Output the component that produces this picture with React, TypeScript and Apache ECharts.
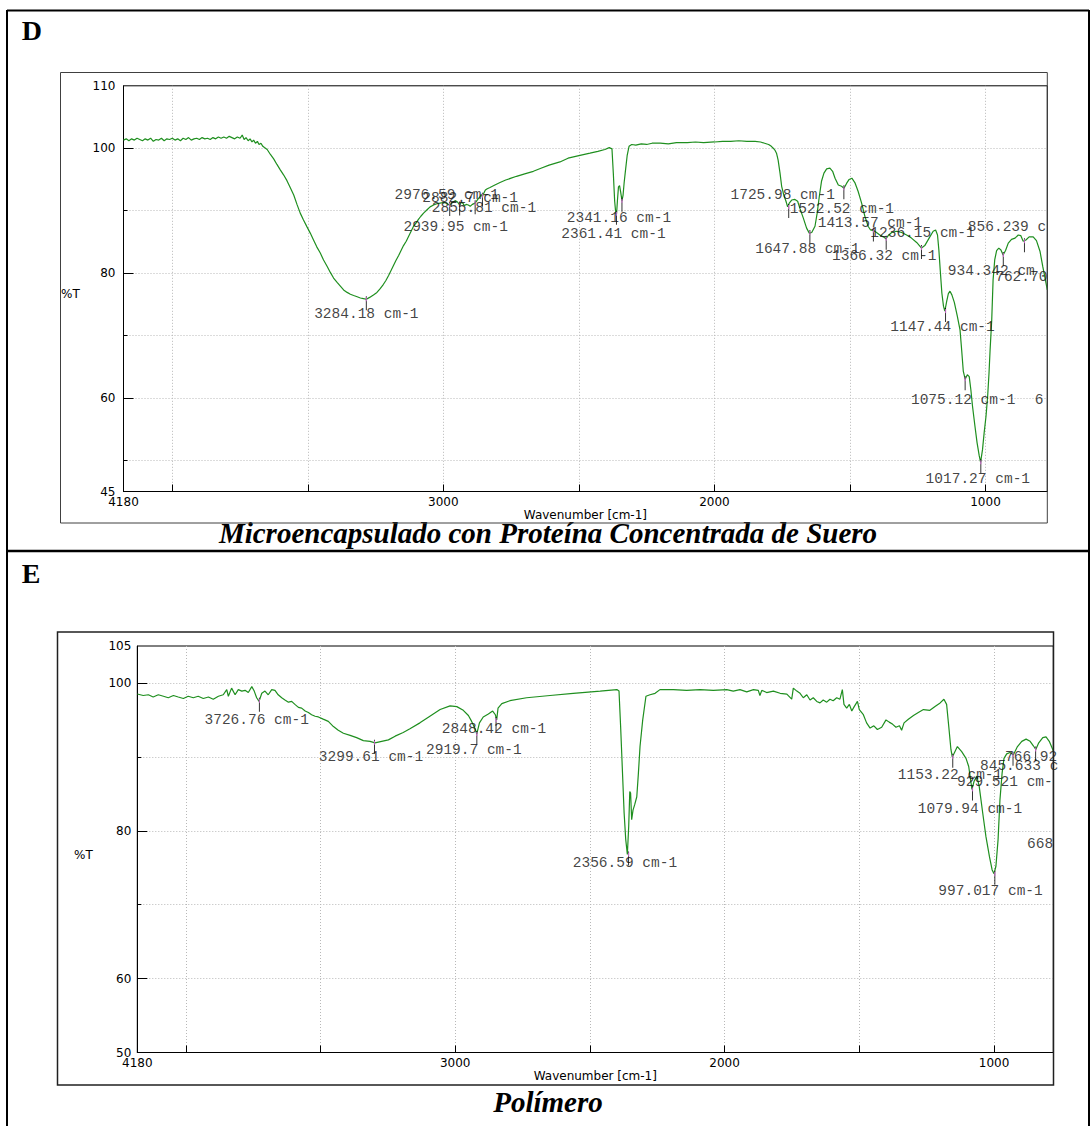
import React, { useEffect, useRef } from "react";
import * as echarts from "echarts";

// ---------- DATA ----------
const D_X_RANGE = [772, 4180];
const D_Y_RANGE = [45, 110];
const E_X_RANGE = [780, 4180];
const E_Y_RANGE = [50, 105];

const X_TICKS = [4000, 3500, 3000, 2500, 2000, 1500, 1000];
const X_LABELS = [4180, 3000, 2000, 1000];
const D_Y_LABELS = [45, 60, 80, 100, 110];
const E_Y_LABELS = [50, 60, 80, 100, 105];
const D_Y_GRID = [50, 60, 70, 80, 90, 100];
const E_Y_GRID = [60, 70, 80, 90, 100];
const Y_MAJOR = [60, 80, 100];

// [wavenumber cm-1, %T]
const D_SPECTRUM: [number, number][] = [
  [4180, 101.3], [4170, 101.5], [4160, 101.2], [4150, 101.5], [4140, 101.3], [4130, 101.6], [4120, 101.4],
  [4110, 101.2], [4100, 101.5], [4090, 101.3], [4080, 101.6], [4070, 101.1], [4060, 101.4], [4050, 101.3],
  [4040, 101.6], [4030, 101.2], [4020, 101.5], [4010, 101.4], [4000, 101.6], [3990, 101.3], [3980, 101.5],
  [3970, 101.2], [3960, 101.6], [3950, 101.4], [3940, 101.7], [3930, 101.3], [3920, 101.5], [3910, 101.6],
  [3900, 101.4], [3890, 101.7], [3880, 101.5], [3870, 101.6], [3860, 101.4], [3850, 101.7], [3840, 101.5],
  [3830, 101.8], [3820, 101.6], [3810, 101.8], [3800, 101.6], [3790, 101.9], [3780, 101.7], [3770, 101.5],
  [3760, 101.8], [3750, 101.6], [3742, 102.1], [3735, 101.4], [3728, 101.7], [3720, 101.2], [3713, 101.5],
  [3706, 101.0], [3700, 101.3], [3693, 100.8], [3686, 101.1], [3680, 100.6], [3673, 100.8], [3666, 100.3],
  [3660, 100.1], [3650, 99.8], [3638, 99.0], [3626, 98.3], [3614, 97.4], [3601, 96.5], [3589, 95.7],
  [3577, 94.8], [3565, 93.7], [3552, 92.5], [3540, 91.0], [3528, 89.6], [3516, 88.5], [3503, 87.4],
  [3491, 86.4], [3479, 85.3], [3467, 84.2], [3454, 83.2], [3442, 82.1], [3429, 81.1], [3417, 80.1],
  [3405, 79.2], [3392, 78.5], [3380, 77.9], [3368, 77.3], [3355, 76.9], [3343, 76.6], [3331, 76.4],
  [3318, 76.2], [3306, 76.0], [3295, 75.9], [3284, 75.8], [3272, 76.1], [3258, 76.5], [3245, 76.9],
  [3233, 77.5], [3221, 78.2], [3212, 78.8], [3202, 79.6], [3193, 80.4], [3184, 81.2], [3175, 82.0],
  [3165, 82.8], [3156, 83.6], [3147, 84.4], [3137, 85.1], [3128, 85.9], [3119, 86.7], [3110, 87.5],
  [3101, 88.0], [3092, 88.6], [3083, 89.1], [3073, 89.6], [3061, 90.1], [3049, 90.6], [3036, 90.9],
  [3024, 91.1], [3012, 91.2], [3000, 91.3], [2988, 91.2], [2981, 91.0], [2977, 90.8], [2970, 91.2],
  [2963, 91.4], [2955, 91.6], [2948, 91.4], [2940, 90.9], [2934, 91.3], [2928, 91.2], [2923, 90.8],
  [2916, 91.0], [2908, 90.9], [2901, 90.7], [2893, 91.0], [2883, 91.2], [2873, 91.8], [2864, 92.3],
  [2860, 92.6], [2856, 92.2], [2851, 92.8], [2845, 93.3], [2838, 93.5], [2828, 93.7], [2810, 94.1],
  [2791, 94.5], [2770, 94.9], [2750, 95.2], [2730, 95.5], [2700, 95.9], [2668, 96.3], [2640, 96.8],
  [2610, 97.3], [2570, 97.8], [2540, 98.4], [2500, 98.8], [2459, 99.2], [2430, 99.5], [2404, 99.8],
  [2388, 100.1], [2378, 99.9], [2373, 96.0], [2368, 91.5], [2364, 89.6], [2361, 89.5], [2358, 91.5],
  [2354, 93.8], [2350, 94.0], [2346, 93.0], [2341, 91.6], [2337, 92.5], [2333, 94.5], [2328, 96.5],
  [2322, 98.8], [2315, 100.3], [2305, 100.6], [2290, 100.5], [2270, 100.7], [2250, 100.6], [2230, 100.8],
  [2200, 100.8], [2170, 100.7], [2140, 100.9], [2100, 100.9], [2070, 101.0], [2040, 100.9], [2000, 101.0],
  [1970, 101.1], [1940, 101.1], [1910, 101.2], [1880, 101.1], [1850, 101.1], [1830, 101.0], [1815, 100.8],
  [1800, 100.6], [1790, 100.3], [1783, 100.0], [1777, 99.7], [1771, 99.2], [1765, 98.1], [1758, 96.0],
  [1752, 93.9], [1744, 92.5], [1736, 91.5], [1730, 90.6], [1724, 91.2], [1715, 91.7], [1703, 91.8],
  [1693, 91.5], [1685, 90.4], [1672, 88.8], [1660, 87.2], [1650, 86.4], [1641, 86.5], [1629, 87.5],
  [1621, 89.6], [1613, 92.3], [1605, 94.7], [1596, 96.0], [1586, 96.7], [1574, 96.8], [1564, 96.3],
  [1555, 95.2], [1543, 94.1], [1531, 93.9], [1522, 93.6], [1512, 94.4], [1503, 95.0], [1493, 95.2],
  [1482, 94.5], [1470, 93.1], [1457, 91.2], [1445, 89.1], [1433, 87.5], [1424, 86.9], [1413, 86.8],
  [1402, 86.5], [1390, 86.1], [1377, 85.8], [1367, 85.5], [1357, 86.1], [1346, 86.5], [1328, 86.7],
  [1309, 86.5], [1291, 86.1], [1273, 85.6], [1254, 84.9], [1236, 84.0], [1224, 84.4], [1208, 85.6],
  [1193, 86.7], [1184, 86.9], [1177, 86.1], [1172, 83.7], [1167, 80.5], [1161, 76.8], [1155, 74.7],
  [1150, 73.9], [1143, 75.5], [1137, 76.7], [1131, 77.1], [1124, 76.5], [1115, 75.3], [1104, 73.1],
  [1094, 70.9], [1088, 67.7], [1082, 64.3], [1075, 63.0], [1067, 63.7], [1060, 63.4], [1054, 61.3],
  [1048, 58.7], [1039, 55.5], [1031, 52.8], [1023, 50.7], [1018, 49.7], [1011, 51.7], [1005, 54.4],
  [998, 57.1], [992, 60.3], [987, 64.0], [983, 67.7], [977, 72.5], [972, 78.9], [966, 82.1],
  [959, 83.6], [951, 84.0], [943, 83.7], [935, 82.9], [926, 83.6], [916, 84.8], [904, 85.4],
  [891, 85.6], [879, 86.1], [870, 86.0], [861, 85.1], [851, 85.3], [839, 85.8], [824, 85.8],
  [812, 85.2], [799, 83.5], [789, 81.1], [779, 78.9], [772, 77.3],
];

const E_SPECTRUM: [number, number][] = [
  [4180, 98.5], [4158, 98.3], [4139, 98.4], [4121, 98.1], [4102, 98.4], [4083, 98.2], [4065, 98.0],
  [4046, 98.3], [4028, 98.1], [4009, 97.9], [3991, 98.2], [3972, 98.0], [3954, 98.2], [3935, 97.9],
  [3916, 98.1], [3898, 97.8], [3879, 98.2], [3861, 98.4], [3848, 99.1], [3842, 98.2], [3830, 99.3],
  [3817, 98.4], [3805, 99.1], [3792, 98.9], [3780, 99.0], [3768, 98.7], [3755, 99.5], [3746, 98.9],
  [3737, 98.0], [3728, 97.5], [3718, 98.6], [3706, 98.9], [3694, 98.4], [3681, 99.1], [3669, 99.0],
  [3657, 98.4], [3644, 98.0], [3632, 97.7], [3619, 97.4], [3607, 97.5], [3595, 97.1], [3582, 96.7],
  [3570, 96.6], [3557, 96.2], [3545, 96.0], [3533, 95.7], [3520, 95.5], [3508, 95.4], [3490, 95.1],
  [3471, 94.8], [3452, 94.1], [3434, 93.6], [3415, 93.2], [3390, 92.9], [3366, 92.6], [3341, 92.2],
  [3316, 92.1], [3298, 91.9], [3273, 92.1], [3248, 92.3], [3223, 92.8], [3193, 93.3], [3168, 93.8],
  [3131, 94.6], [3094, 95.5], [3056, 96.4], [3019, 96.9], [2994, 96.8], [2970, 96.3], [2951, 95.6],
  [2939, 94.8], [2926, 93.8], [2920, 93.1], [2910, 94.6], [2896, 95.4], [2877, 95.8], [2861, 96.2],
  [2851, 95.7], [2846, 95.0], [2841, 96.6], [2827, 97.2], [2797, 97.6], [2735, 98.0], [2648, 98.3],
  [2562, 98.6], [2462, 98.9], [2400, 99.1], [2392, 98.9], [2386, 94.1], [2380, 88.7], [2373, 82.4],
  [2367, 78.8], [2361, 76.8], [2356, 80.6], [2352, 85.3], [2349, 85.1], [2345, 81.5], [2340, 82.8],
  [2334, 83.5], [2326, 84.6], [2320, 87.8], [2314, 91.4], [2304, 95.0], [2292, 98.2], [2277, 98.4],
  [2258, 98.6], [2240, 99.1], [2190, 99.1], [2141, 99.0], [2091, 99.1], [2042, 99.0], [1992, 99.1],
  [1968, 98.9], [1943, 99.1], [1918, 98.8], [1893, 99.1], [1875, 99.0], [1869, 98.3], [1862, 99.0],
  [1844, 98.7], [1819, 98.9], [1794, 98.6], [1769, 98.5], [1751, 97.8], [1745, 99.3], [1732, 98.9],
  [1720, 98.6], [1708, 98.0], [1695, 98.4], [1683, 97.7], [1671, 98.0], [1658, 97.5], [1646, 97.3],
  [1634, 97.7], [1621, 97.4], [1609, 97.8], [1597, 97.6], [1584, 98.0], [1572, 97.8], [1563, 99.1],
  [1557, 97.1], [1547, 96.6], [1537, 97.1], [1528, 96.2], [1519, 96.8], [1507, 97.5], [1500, 96.4],
  [1485, 95.7], [1473, 94.6], [1460, 93.9], [1446, 94.2], [1433, 93.7], [1417, 94.0], [1401, 95.0],
  [1389, 94.7], [1376, 94.4], [1364, 94.0], [1351, 94.2], [1343, 93.6], [1334, 94.6], [1318, 95.1],
  [1299, 95.6], [1281, 96.0], [1262, 96.4], [1238, 96.3], [1219, 96.8], [1200, 97.3], [1186, 97.8],
  [1176, 97.1], [1168, 94.1], [1160, 91.0], [1155, 90.0], [1148, 90.5], [1136, 91.4], [1120, 90.7],
  [1104, 89.8], [1094, 88.7], [1087, 86.9], [1082, 85.6], [1074, 86.7], [1064, 87.4], [1055, 86.0],
  [1042, 82.4], [1030, 79.2], [1017, 76.5], [1007, 74.7], [1000, 74.2], [993, 75.2], [985, 78.8],
  [978, 84.2], [970, 87.8], [963, 89.8], [953, 90.4], [941, 90.6], [928, 90.3], [913, 91.4],
  [897, 92.1], [881, 92.4], [866, 92.1], [854, 91.5], [845, 91.0], [834, 91.9], [819, 92.6],
  [807, 92.7], [795, 92.1], [782, 91.0], [780, 90.8],
];

// Peak picks (the visible part of each label text)
const D_PEAK_WN = [3284.18, 2976.59, 2939.95, 2882.7, 2855.81, 2361.41, 2341.16, 1725.98, 1647.88, 1522.52,
  1413.57, 1366.32, 1236.15, 1147.44, 1075.12, 1017.27, 934.342, 856.239, 762.7, 617];
const D_PEAK_T = [75.8, 90.9, 91.0, 91.2, 92.4, 89.5, 91.6, 90.6, 86.4, 93.6,
  86.8, 85.5, 84.0, 73.9, 63.0, 49.7, 82.9, 85.1, 76.5, 60];
const D_PEAK_TEXT = ["3284.18 cm-1", "2976.59 cm-1", "2939.95 cm-1", "2882.7 cm-1", "2855.81 cm-1",
  "2361.41 cm-1", "2341.16 cm-1", "1725.98 cm-1", "1647.88 cm-1", "1522.52 cm-1", "1413.57 cm-1",
  "1366.32 cm-1", "1236.15 cm-1", "1147.44 cm-1", "1075.12 cm-1", "1017.27 cm-1", "934.342 cm",
  "856.239 c", "762.70", "6"];

const E_PEAK_WN = [3726.76, 3299.61, 2919.7, 2848.42, 2356.59, 1153.22, 1079.94, 997.017, 929.521, 845.633, 766.92, 668];
const E_PEAK_T = [97.6, 91.9, 93.1, 95.0, 76.8, 90.0, 85.6, 74.2, 90.3, 91.0, 92.0, 82];
const E_PEAK_TEXT = ["3726.76 cm-1", "3299.61 cm-1", "2919.7 cm-1", "2848.42 cm-1", "2356.59 cm-1",
  "1153.22 cm-1", "1079.94 cm-1", "997.017 cm-1", "929.521 cm-", "845.633 c", "766.92", "668"];

// ---------- LAYOUT (label placement in px relative to the peak point) ----------
const D_LABEL_LAYOUT: [number, number, string][] = [
  [0, 14.5, "center"], [-3, -10, "center"], [-4, 22.5, "center"], [-5, -5, "center"], [1.5, 12.7, "center"],
  [-3, 20, "center"], [-3, 17, "center"], [-6, -12, "center"], [-2.5, 16, "center"], [-2, 21, "center"],
  [-3.5, -8, "center"], [-2, 17, "center"], [1, -15, "center"], [-3, 15.5, "center"], [-2, 21, "center"],
  [-3, 17, "center"], [-55.5, 16, "left"], [-56.6, -14, "left"], [-54.6, -18, "left"], [-54.5, 2, "left"],
];
const E_LABEL_LAYOUT: [number, number, string][] = [
  [-2.7, 19.3, "center"], [-3.5, 14, "center"], [-3, 16, "center"], [-2, 9.4, "center"], [-3.6, 8.3, "center"],
  [-2.7, 18, "center"], [-2.5, 20, "center"], [-4.3, 17, "center"], [-56, 27, "left"], [-55.6, 16.5, "left"],
  [-51.8, 15, "left"], [-56.4, 28, "left"],
];

const GREEN = "#1f8f1f";
const GRID_LINE = { color: "#b8b8b8", type: [1, 2] as number[], width: 1 };
const AXIS_FONT = { fontFamily: "DejaVu Sans", fontSize: 12, color: "#000" };
const PEAK_FONT = { fontFamily: "Liberation Mono", fontSize: 14.5, color: "#111", lineHeight: 12 };

function xAxisFor(gridIndex: number, range: number[], nameGap: number) {
  return {
    type: "value", gridIndex, inverse: true, min: range[0], max: range[1],
    axisLine: { show: true, onZero: false, lineStyle: { color: "#000", width: 1 } },
    axisTick: { show: true, inside: true, length: 7, customValues: X_TICKS, lineStyle: { color: "#000" } },
    axisLabel: { show: true, customValues: X_LABELS, margin: 4, ...AXIS_FONT, lineHeight: 12, formatter: (v: number) => String(v) },
    splitLine: { show: true, lineStyle: GRID_LINE },
    name: "Wavenumber [cm-1]", nameLocation: "middle", nameGap,
    nameTextStyle: { ...AXIS_FONT, lineHeight: 11 },
  };
}

function yAxesFor(gridIndex: number, range: number[], labels: number[], grid: number[], margin: number) {
  return [
    {
      type: "value", gridIndex, min: range[0], max: range[1], position: "left",
      axisLine: { show: true, onZero: false, lineStyle: { color: "#000", width: 1 } },
      axisTick: { show: true, inside: true, length: 4, customValues: grid, lineStyle: { color: "#000" } },
      axisLabel: { show: true, customValues: labels, margin, ...AXIS_FONT, lineHeight: 11, formatter: (v: number) => String(v) },
      splitLine: { show: true, lineStyle: GRID_LINE },
    },
    {
      type: "value", gridIndex, min: range[0], max: range[1], position: "left",
      axisLine: { show: false },
      axisTick: { show: true, inside: true, length: 10, customValues: Y_MAJOR, lineStyle: { color: "#000" } },
      axisLabel: { show: false },
      splitLine: { show: false },
    },
  ];
}

function peakSeries(axisIdx: number, yIdx: number, wn: number[], t: number[], text: string[], layout: [number, number, string][]) {
  const pts = wn.map((w, i) => [w, t[i]]);
  return [
    {
      type: "scatter", xAxisIndex: axisIdx, yAxisIndex: yIdx, silent: true, z: 4, clip: true,
      symbol: "rect", symbolSize: [1, 14], symbolOffset: [0, 4],
      itemStyle: { color: "#000" },
      data: pts,
    },
    {
      type: "scatter", xAxisIndex: axisIdx, yAxisIndex: yIdx, silent: true, z: 5, clip: true,
      symbol: "rect", symbolSize: [1.2, 4], symbolOffset: [0, 0],
      itemStyle: { color: "#e070e0" },
      data: pts,
    },
    {
      type: "scatter", xAxisIndex: axisIdx, yAxisIndex: yIdx, silent: true, z: 6, clip: false,
      symbol: "circle", symbolSize: 1, itemStyle: { color: "rgba(0,0,0,0)" },
      data: pts.map((p, i) => ({
        value: p,
        label: {
          show: true, position: "inside", formatter: text[i],
          offset: [layout[i][0], layout[i][1]], align: layout[i][2], verticalAlign: "middle",
          ...PEAK_FONT,
        },
      })),
    },
  ];
}

function buildOption() {
  const serifBold = '"Liberation Serif", "Times New Roman", serif';
  return {
    animation: false,
    backgroundColor: "#fff",
    grid: [
      { left: 123.5, top: 85.8, width: 923.8, height: 405.7, show: true, borderColor: "#000", borderWidth: 1, backgroundColor: "#fff" },
      { left: 137.3, top: 646, width: 916, height: 406.5, show: true, borderColor: "#000", borderWidth: 1, backgroundColor: "#fff" },
    ],
    xAxis: [xAxisFor(0, D_X_RANGE, 18), xAxisFor(1, E_X_RANGE, 18)],
    yAxis: [
      ...yAxesFor(0, D_Y_RANGE, D_Y_LABELS, D_Y_GRID, 8),
      ...yAxesFor(1, E_Y_RANGE, E_Y_LABELS, E_Y_GRID, 6),
    ],
    series: [
      {
        type: "line", xAxisIndex: 0, yAxisIndex: 0, data: D_SPECTRUM, showSymbol: false, clip: true, z: 3,
        lineStyle: { color: GREEN, width: 1.2 }, silent: true,
      },
      {
        type: "line", xAxisIndex: 1, yAxisIndex: 2, data: E_SPECTRUM, showSymbol: false, clip: true, z: 3,
        lineStyle: { color: GREEN, width: 1.2 }, silent: true,
      },
      ...peakSeries(0, 0, D_PEAK_WN, D_PEAK_T, D_PEAK_TEXT, D_LABEL_LAYOUT),
      ...peakSeries(1, 2, E_PEAK_WN, E_PEAK_T, E_PEAK_TEXT, E_LABEL_LAYOUT),
    ],
    graphic: [
      // outer table borders
      { type: "line", silent: true, shape: { x1: 7, y1: 10.5, x2: 1089, y2: 10.5 }, style: { stroke: "#000", lineWidth: 2 } },
      { type: "line", silent: true, shape: { x1: 7, y1: 10, x2: 7, y2: 1126 }, style: { stroke: "#000", lineWidth: 2 } },
      { type: "line", silent: true, shape: { x1: 1089, y1: 10, x2: 1089, y2: 1126 }, style: { stroke: "#000", lineWidth: 2 } },
      { type: "line", silent: true, shape: { x1: 7, y1: 551, x2: 1089, y2: 551 }, style: { stroke: "#000", lineWidth: 2.5 } },
      // chart frames
      { type: "rect", silent: true, z: 10, shape: { x: 60.5, y: 72.5, width: 986.8, height: 450.5 }, style: { fill: "none", stroke: "#404040", lineWidth: 1 } },
      { type: "rect", silent: true, z: 10, shape: { x: 57.5, y: 632, width: 996, height: 453 }, style: { fill: "none", stroke: "#202020", lineWidth: 1.5 } },
      // panel letters
      { type: "text", silent: true, x: 21.7, y: 30, style: { text: "D", font: `bold 28px ${serifBold}`, fill: "#000", align: "left", verticalAlign: "middle" } },
      { type: "text", silent: true, x: 21.7, y: 573, style: { text: "E", font: `bold 28px ${serifBold}`, fill: "#000", align: "left", verticalAlign: "middle" } },
      // %T
      { type: "text", silent: true, x: 61, y: 294, style: { text: "%T", font: '12px "DejaVu Sans"', fill: "#000", align: "left", verticalAlign: "middle" } },
      { type: "text", silent: true, x: 74, y: 855, style: { text: "%T", font: '12px "DejaVu Sans"', fill: "#000", align: "left", verticalAlign: "middle" } },
      // captions
      { type: "text", silent: true, x: 548, y: 533, style: { text: "Microencapsulado con Proteína Concentrada de Suero", font: `italic bold 29px ${serifBold}`, lineHeight: 20, fill: "#000", align: "center", verticalAlign: "middle" } },
      { type: "text", silent: true, x: 548, y: 1102, style: { text: "Polímero", font: `italic bold 29px ${serifBold}`, lineHeight: 20, fill: "#000", align: "center", verticalAlign: "middle" } },
    ],
  };
}

export default function App() {
  const ref = useRef<HTMLDivElement>(null);
  useEffect(() => {
    if (!ref.current) return;
    const chart = echarts.init(ref.current, null, { renderer: "svg" });
    chart.setOption(buildOption() as any);
    return () => chart.dispose();
  }, []);
  return <div ref={ref} style={{ position: "absolute", left: 0, top: 0, width: 1092, height: 1126 }} />;
}
